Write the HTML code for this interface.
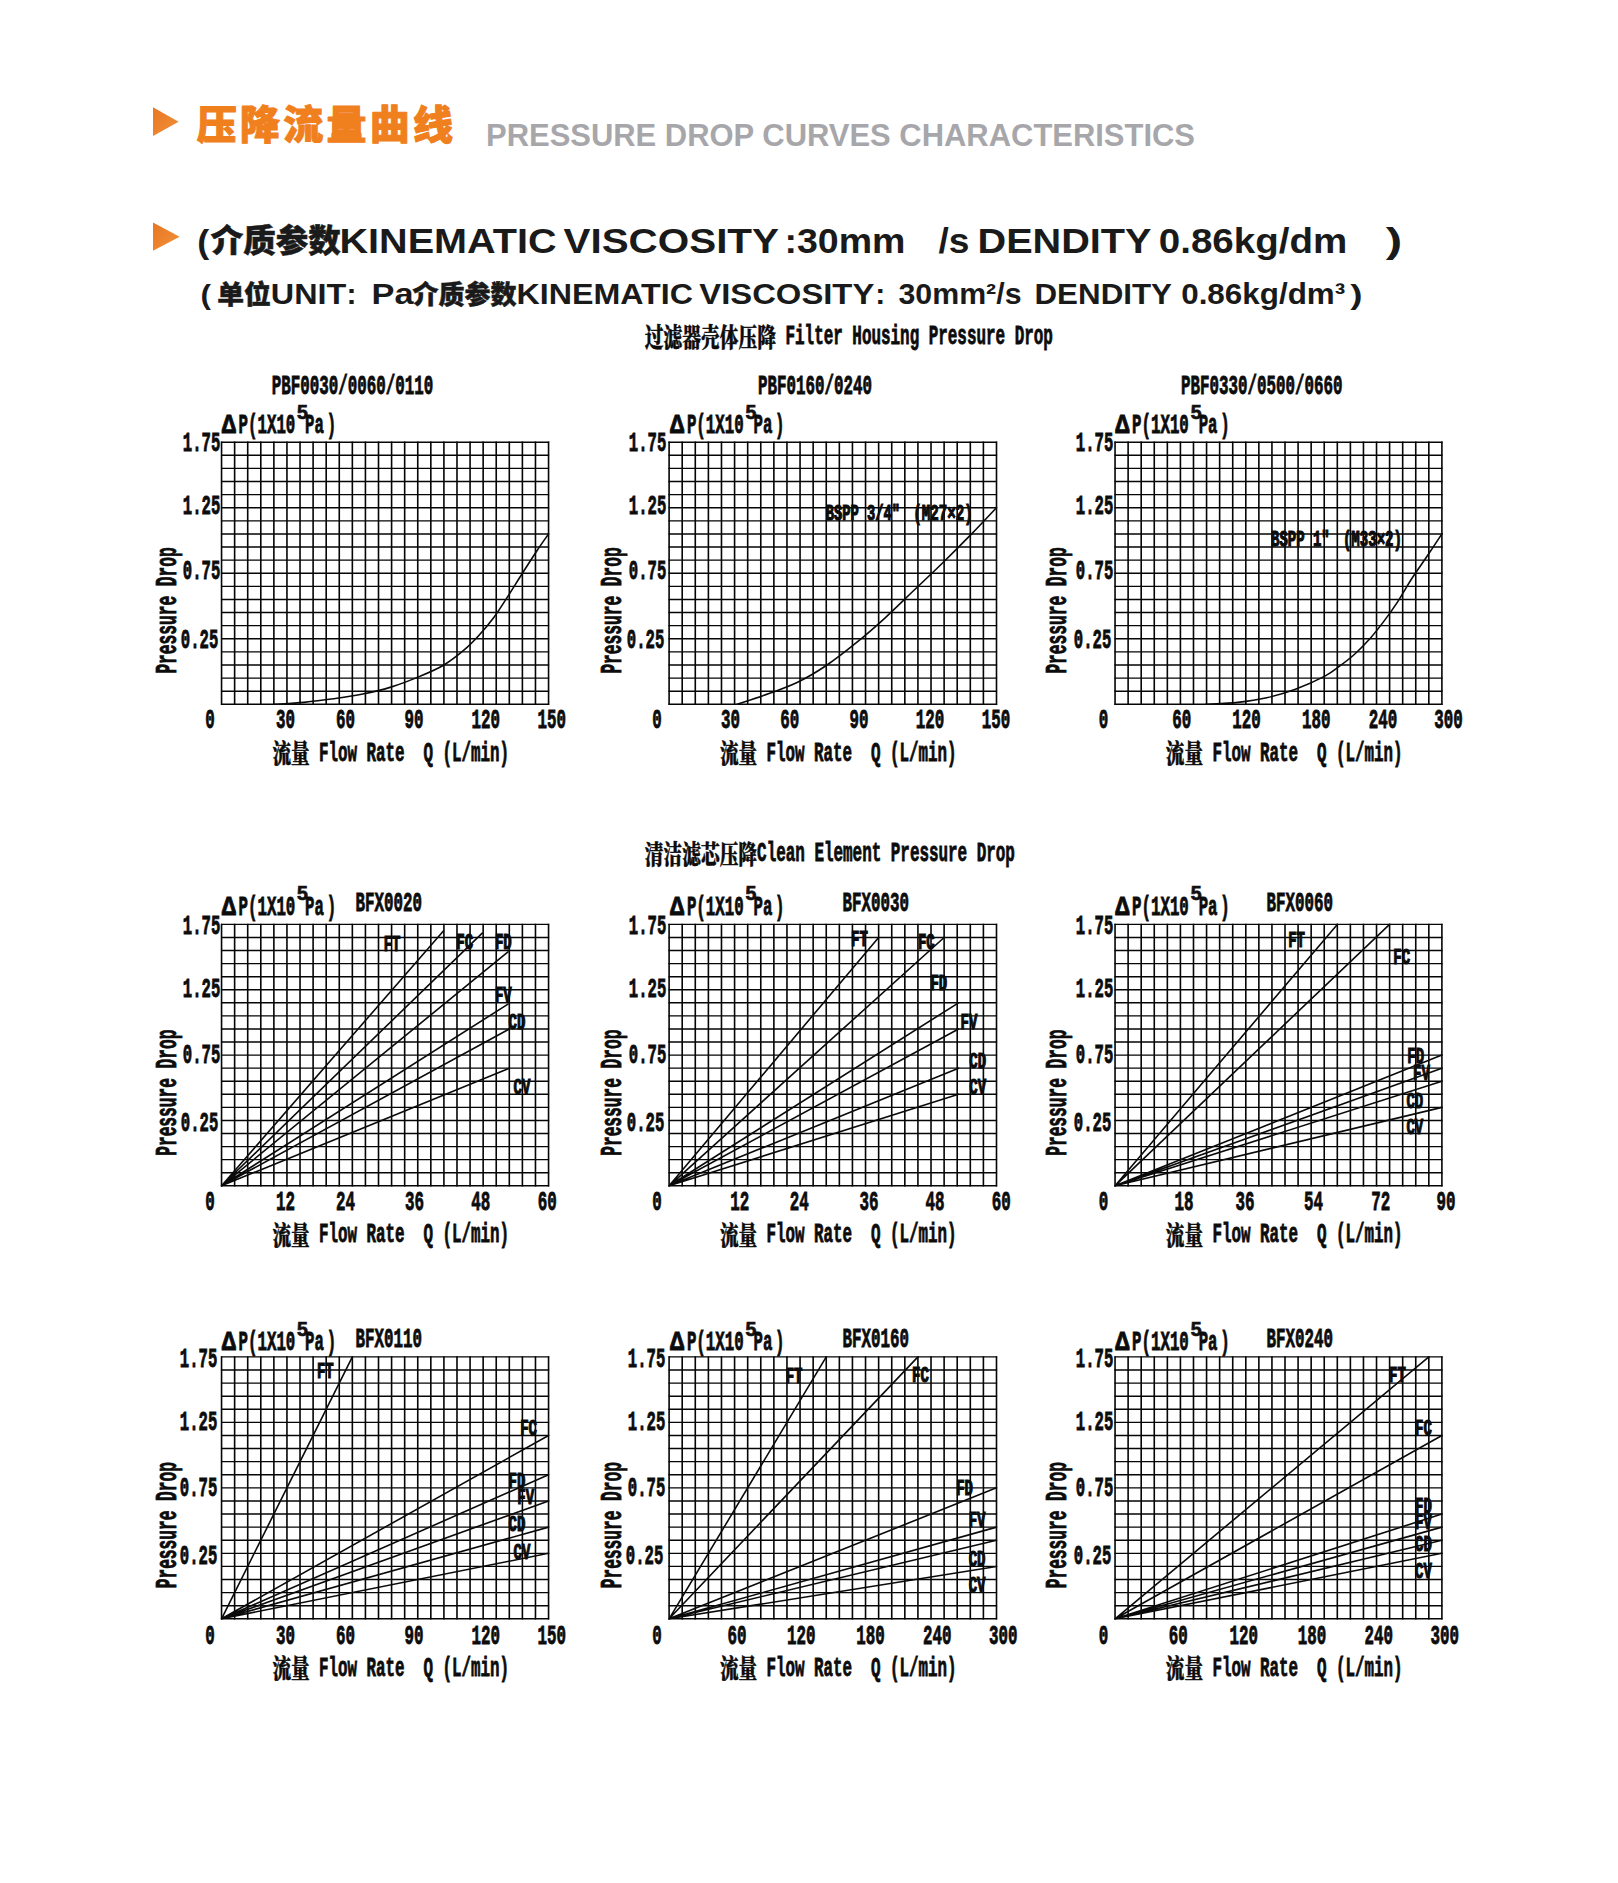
<!DOCTYPE html>
<html lang="zh"><head><meta charset="utf-8"><title>压降流量曲线 PRESSURE DROP CURVES CHARACTERISTICS</title>
<style>
html,body{margin:0;padding:0;background:#fff}
body{width:1618px;height:1883px;overflow:hidden}
svg{display:block}
.g{fill:none;stroke:#050505}
.gv{stroke-width:1.6}
.gh{stroke-width:1.4}
.c{fill:none;stroke:#0a0a0a;stroke-width:1.6;stroke-linecap:round}
text{white-space:pre}
.m{font-family:"Liberation Mono","DejaVu Sans Mono","Noto Serif CJK SC",monospace;font-weight:bold;fill:#0c0c0c;stroke:#0c0c0c;stroke-width:0.85}
.sm{stroke-width:1.2}
.j{font-family:"Liberation Serif","Noto Serif CJK SC","Noto Sans CJK SC",serif;font-weight:900;stroke-width:0.45}
.s5{font-family:"Liberation Sans","Noto Sans CJK SC",sans-serif;font-weight:bold;font-size:19.5px;fill:#111;stroke:#111;stroke-width:0.7}
.h{font-family:"Liberation Sans","Noto Sans CJK SC",sans-serif;font-weight:bold;fill:#1a1a1a}
.hc{font-family:"Liberation Sans","Noto Sans CJK SC",sans-serif;font-weight:900;fill:#1a1a1a;stroke:#1a1a1a;stroke-width:0.5}
.k{font-family:"Liberation Sans","Noto Sans CJK SC",sans-serif;font-weight:900;fill:#f0801e;stroke:#f0801e;stroke-width:1.0;stroke-linejoin:round}
</style></head><body>
<svg xml:space="preserve" width="1618" height="1883" viewBox="0 0 1618 1883">
<defs><linearGradient id="og" x1="0" y1="0" x2="1" y2="1"><stop offset="0" stop-color="#e87722"/><stop offset="1" stop-color="#f3903a"/></linearGradient></defs>
<polygon points="153,107.2 178.6,121.7 153,136" fill="url(#og)"/>
<text class="k" x="196.7" y="139.4" font-size="40" letter-spacing="3.25">压降流量曲线</text>
<text class="h" x="486.0" y="146.2" font-size="30.5" textLength="709.0" lengthAdjust="spacingAndGlyphs" style="fill:#a7a7ab">PRESSURE DROP CURVES CHARACTERISTICS</text>
<polygon points="153,222.4 179.6,236.7 153,250.8" fill="url(#og)"/>
<text class="h" x="197.3" y="252.5" font-size="34" textLength="12.0" lengthAdjust="spacingAndGlyphs">(</text>
<text class="hc" x="210.8" y="252.0" font-size="32" textLength="130.0" lengthAdjust="spacingAndGlyphs">介质参数</text>
<text class="h" x="339.5" y="252.5" font-size="35" textLength="217.0" lengthAdjust="spacingAndGlyphs">KINEMATIC</text>
<text class="h" x="563.5" y="252.5" font-size="35" textLength="215.5" lengthAdjust="spacingAndGlyphs">VISCOSITY</text>
<text class="h" x="784.5" y="252.5" font-size="35" textLength="121.0" lengthAdjust="spacingAndGlyphs">:30mm</text>
<text class="h" x="938.5" y="252.5" font-size="35" textLength="31.0" lengthAdjust="spacingAndGlyphs">/s</text>
<text class="h" x="977.5" y="252.5" font-size="35" textLength="174.0" lengthAdjust="spacingAndGlyphs">DENDITY</text>
<text class="h" x="1158.8" y="252.5" font-size="35" textLength="188.5" lengthAdjust="spacingAndGlyphs">0.86kg/dm</text>
<text class="h" x="1385.8" y="252.5" font-size="35" textLength="16.5" lengthAdjust="spacingAndGlyphs">)</text>
<text class="h" x="200.5" y="304.0" font-size="28" textLength="10.5" lengthAdjust="spacingAndGlyphs">(</text>
<text class="hc" x="217.2" y="303.5" font-size="26.2" textLength="53.6" lengthAdjust="spacingAndGlyphs">单位</text>
<text class="h" x="270.8" y="304.0" font-size="29" textLength="75.5" lengthAdjust="spacingAndGlyphs">UNIT</text>
<text class="h" x="346.5" y="304.0" font-size="30">:</text>
<text class="h" x="371.5" y="304.0" font-size="29" textLength="42.0" lengthAdjust="spacingAndGlyphs">Pa</text>
<text class="hc" x="412.6" y="303.5" font-size="26" textLength="104.0" lengthAdjust="spacingAndGlyphs">介质参数</text>
<text class="h" x="516.5" y="304.0" font-size="29" textLength="176.5" lengthAdjust="spacingAndGlyphs">KINEMATIC</text>
<text class="h" x="699.3" y="304.0" font-size="29" textLength="175.0" lengthAdjust="spacingAndGlyphs">VISCOSITY</text>
<text class="h" x="875.3" y="304.0" font-size="30">:</text>
<text class="h" x="898.5" y="304.0" font-size="29" textLength="123.0" lengthAdjust="spacingAndGlyphs">30mm²/s</text>
<text class="h" x="1034.5" y="304.0" font-size="29" textLength="137.5" lengthAdjust="spacingAndGlyphs">DENDITY</text>
<text class="h" x="1181.2" y="304.0" font-size="29" textLength="164.0" lengthAdjust="spacingAndGlyphs">0.86kg/dm³</text>
<text class="h" x="1350.2" y="304.0" font-size="28" textLength="12.2" lengthAdjust="spacingAndGlyphs">)</text>
<text class="m j" transform="translate(644.8,346.9) scale(0.721,1)" font-size="26">过滤器壳体压降</text>
<text class="m" transform="translate(785.5,344.4) scale(0.594,1)" font-size="26.8">Filter Housing Pressure Drop</text>
<text class="m j" transform="translate(644.8,863.7) scale(0.720,1)" font-size="26">清洁滤芯压降</text>
<text class="m" transform="translate(757.1,861.2) scale(0.594,1)" font-size="26.8">Clean Element Pressure Drop</text>
<path class="g gv" d="M221.55 441.60V704.90M234.63 441.60V704.90M247.71 441.60V704.90M260.79 441.60V704.90M273.87 441.60V704.90M286.95 441.60V704.90M300.03 441.60V704.90M313.11 441.60V704.90M326.19 441.60V704.90M339.27 441.60V704.90M352.35 441.60V704.90M365.43 441.60V704.90M378.51 441.60V704.90M391.59 441.60V704.90M404.67 441.60V704.90M417.75 441.60V704.90M430.83 441.60V704.90M443.91 441.60V704.90M456.99 441.60V704.90M470.07 441.60V704.90M483.15 441.60V704.90M496.23 441.60V704.90M509.31 441.60V704.90M522.39 441.60V704.90M535.47 441.60V704.90M548.55 441.60V704.90"/>
<path class="g gh" d="M220.95 442.20H549.15M220.95 455.31H549.15M220.95 468.41H549.15M220.95 481.51H549.15M220.95 494.62H549.15M220.95 507.73H549.15M220.95 520.83H549.15M220.95 533.93H549.15M220.95 547.04H549.15M220.95 560.14H549.15M220.95 573.25H549.15M220.95 586.36H549.15M220.95 599.46H549.15M220.95 612.57H549.15M220.95 625.67H549.15M220.95 638.77H549.15M220.95 651.88H549.15M220.95 664.99H549.15M220.95 678.09H549.15M220.95 691.20H549.15M220.95 704.30H549.15"/>
<path class="c" d="M275.18 704.30C279.97 703.97 294.25 703.25 303.95 702.33C313.66 701.42 323.57 700.17 333.38 698.80C343.19 697.42 353.11 696.07 362.81 694.08C372.52 692.09 382.00 689.86 391.59 686.87C401.18 683.88 411.65 679.77 420.37 676.12C429.09 672.48 436.61 669.35 443.91 664.98C451.21 660.62 458.36 654.83 464.18 649.91C470.00 645.00 473.93 640.85 478.83 635.50C483.74 630.15 488.75 624.36 493.61 617.81C498.48 611.25 503.21 603.61 508.00 596.18C512.80 588.76 517.59 580.79 522.39 573.25C527.19 565.71 532.42 557.52 536.78 550.97C541.14 544.42 546.59 536.77 548.55 533.93"/>
<text class="m" transform="translate(221.8,432.7) scale(0.88,1)" font-size="26.8">Δ</text>
<text class="m" transform="translate(238.6,432.7) scale(0.588,1)" font-size="26.8">P(1X10</text>
<text class="s5" x="297.1" y="418.5">5</text>
<text class="m" transform="translate(305.1,432.7) scale(0.584,1)" font-size="26.8">Pa</text>
<text class="m" transform="translate(326.8,432.7) scale(0.584,1)" font-size="26.8">)</text>
<text class="m" transform="translate(182.8,450.6) scale(0.584,1)" font-size="26.8">1.75</text>
<text class="m" transform="translate(182.8,513.7) scale(0.584,1)" font-size="26.8">1.25</text>
<text class="m" transform="translate(182.8,579.1) scale(0.584,1)" font-size="26.8">0.75</text>
<text class="m" transform="translate(180.8,647.6) scale(0.584,1)" font-size="26.8">0.25</text>
<text class="m" transform="translate(175.8,673.6) rotate(-90) scale(0.549,1)" font-size="29.5">Pressure Drop</text>
<text class="m" transform="translate(205.2,728.4) scale(0.591,1)" font-size="26.8">0</text>
<text class="m" transform="translate(275.9,728.4) scale(0.591,1)" font-size="26.8">30</text>
<text class="m" transform="translate(336.0,728.4) scale(0.591,1)" font-size="26.8">60</text>
<text class="m" transform="translate(404.6,728.4) scale(0.591,1)" font-size="26.8">90</text>
<text class="m" transform="translate(471.6,728.4) scale(0.591,1)" font-size="26.8">120</text>
<text class="m" transform="translate(537.5,728.4) scale(0.591,1)" font-size="26.8">150</text>
<text class="m j" transform="translate(272.4,763.0) scale(0.716,1)" font-size="26">流量</text>
<text class="m" transform="translate(319.1,760.5) scale(0.591,1)" font-size="26.8">Flow Rate  Q (L/min)</text>
<text class="m" transform="translate(271.8,393.9) scale(0.591,1)" font-size="26.8">PBF0030/0060/0110</text>
<path class="g gv" d="M669.10 441.60V704.90M682.20 441.60V704.90M695.29 441.60V704.90M708.39 441.60V704.90M721.48 441.60V704.90M734.58 441.60V704.90M747.68 441.60V704.90M760.77 441.60V704.90M773.87 441.60V704.90M786.96 441.60V704.90M800.06 441.60V704.90M813.16 441.60V704.90M826.25 441.60V704.90M839.35 441.60V704.90M852.44 441.60V704.90M865.54 441.60V704.90M878.64 441.60V704.90M891.73 441.60V704.90M904.83 441.60V704.90M917.92 441.60V704.90M931.02 441.60V704.90M944.12 441.60V704.90M957.21 441.60V704.90M970.31 441.60V704.90M983.40 441.60V704.90M996.50 441.60V704.90"/>
<path class="g gh" d="M668.50 442.20H997.10M668.50 455.31H997.10M668.50 468.41H997.10M668.50 481.51H997.10M668.50 494.62H997.10M668.50 507.73H997.10M668.50 520.83H997.10M668.50 533.93H997.10M668.50 547.04H997.10M668.50 560.14H997.10M668.50 573.25H997.10M668.50 586.36H997.10M668.50 599.46H997.10M668.50 612.57H997.10M668.50 625.67H997.10M668.50 638.77H997.10M668.50 651.88H997.10M668.50 664.99H997.10M668.50 678.09H997.10M668.50 691.20H997.10M668.50 704.30H997.10"/>
<path class="c" d="M737.20 704.30C742.50 702.51 758.87 697.27 769.02 693.55C779.17 689.84 788.43 686.78 798.10 682.02C807.76 677.26 817.32 671.54 827.04 664.98C836.75 658.43 846.68 650.57 856.37 642.71C866.06 634.84 875.58 626.54 885.18 617.81C894.79 609.07 904.39 599.46 914.00 590.29C923.60 581.11 933.20 572.16 942.81 562.77C952.41 553.37 962.67 543.11 971.62 533.93C980.57 524.76 992.35 512.09 996.50 507.72"/>
<text class="m" transform="translate(670.1,432.7) scale(0.88,1)" font-size="26.8">Δ</text>
<text class="m" transform="translate(686.9,432.7) scale(0.588,1)" font-size="26.8">P(1X10</text>
<text class="s5" x="745.5" y="418.5">5</text>
<text class="m" transform="translate(753.5,432.7) scale(0.584,1)" font-size="26.8">Pa</text>
<text class="m" transform="translate(775.1,432.7) scale(0.584,1)" font-size="26.8">)</text>
<text class="m" transform="translate(628.8,450.6) scale(0.584,1)" font-size="26.8">1.75</text>
<text class="m" transform="translate(628.8,513.7) scale(0.584,1)" font-size="26.8">1.25</text>
<text class="m" transform="translate(628.8,579.1) scale(0.584,1)" font-size="26.8">0.75</text>
<text class="m" transform="translate(626.8,647.6) scale(0.584,1)" font-size="26.8">0.25</text>
<text class="m" transform="translate(620.5,673.6) rotate(-90) scale(0.549,1)" font-size="29.5">Pressure Drop</text>
<text class="m" transform="translate(652.2,728.4) scale(0.591,1)" font-size="26.8">0</text>
<text class="m" transform="translate(721.0,728.4) scale(0.591,1)" font-size="26.8">30</text>
<text class="m" transform="translate(780.2,728.4) scale(0.591,1)" font-size="26.8">60</text>
<text class="m" transform="translate(849.4,728.4) scale(0.591,1)" font-size="26.8">90</text>
<text class="m" transform="translate(915.8,728.4) scale(0.591,1)" font-size="26.8">120</text>
<text class="m" transform="translate(981.8,728.4) scale(0.591,1)" font-size="26.8">150</text>
<text class="m j" transform="translate(719.9,763.0) scale(0.716,1)" font-size="26">流量</text>
<text class="m" transform="translate(766.6,760.5) scale(0.591,1)" font-size="26.8">Flow Rate  Q (L/min)</text>
<text class="m" transform="translate(758.0,393.9) scale(0.591,1)" font-size="26.8">PBF0160/0240</text>
<text class="m sm" transform="translate(825.8,519.9) scale(0.640,1)" font-size="21.5">BSPP 3/4&quot;</text>
<text class="m sm" transform="translate(913.3,519.9) scale(0.659,1)" font-size="21.5">(M27×2)</text>
<path class="g gv" d="M1115.05 441.60V704.90M1128.12 441.60V704.90M1141.20 441.60V704.90M1154.27 441.60V704.90M1167.35 441.60V704.90M1180.42 441.60V704.90M1193.49 441.60V704.90M1206.57 441.60V704.90M1219.64 441.60V704.90M1232.72 441.60V704.90M1245.79 441.60V704.90M1258.86 441.60V704.90M1271.94 441.60V704.90M1285.01 441.60V704.90M1298.09 441.60V704.90M1311.16 441.60V704.90M1324.23 441.60V704.90M1337.31 441.60V704.90M1350.38 441.60V704.90M1363.46 441.60V704.90M1376.53 441.60V704.90M1389.60 441.60V704.90M1402.68 441.60V704.90M1415.75 441.60V704.90M1428.83 441.60V704.90M1441.90 441.60V704.90"/>
<path class="g gh" d="M1114.45 442.20H1442.50M1114.45 455.31H1442.50M1114.45 468.41H1442.50M1114.45 481.51H1442.50M1114.45 494.62H1442.50M1114.45 507.73H1442.50M1114.45 520.83H1442.50M1114.45 533.93H1442.50M1114.45 547.04H1442.50M1114.45 560.14H1442.50M1114.45 573.25H1442.50M1114.45 586.36H1442.50M1114.45 599.46H1442.50M1114.45 612.57H1442.50M1114.45 625.67H1442.50M1114.45 638.77H1442.50M1114.45 651.88H1442.50M1114.45 664.99H1442.50M1114.45 678.09H1442.50M1114.45 691.20H1442.50M1114.45 704.30H1442.50"/>
<path class="c" d="M1205.91 704.30C1211.25 703.97 1227.81 703.43 1237.95 702.33C1248.08 701.24 1257.12 699.93 1266.71 697.75C1276.30 695.56 1285.77 692.83 1295.47 689.23C1305.17 685.63 1317.48 680.01 1324.89 676.12C1332.30 672.24 1335.02 669.51 1339.92 665.90C1344.83 662.30 1349.51 658.80 1354.30 654.50C1359.10 650.20 1363.89 645.44 1368.69 640.09C1373.48 634.73 1378.27 628.73 1383.07 622.39C1387.86 616.06 1392.65 609.40 1397.45 602.08C1402.24 594.76 1407.04 585.92 1411.83 578.49C1416.62 571.07 1421.20 564.95 1426.21 557.52C1431.22 550.10 1439.29 537.87 1441.90 533.93"/>
<text class="m" transform="translate(1115.3,432.7) scale(0.88,1)" font-size="26.8">Δ</text>
<text class="m" transform="translate(1132.1,432.7) scale(0.588,1)" font-size="26.8">P(1X10</text>
<text class="s5" x="1190.7" y="418.5">5</text>
<text class="m" transform="translate(1198.7,432.7) scale(0.584,1)" font-size="26.8">Pa</text>
<text class="m" transform="translate(1220.3,432.7) scale(0.584,1)" font-size="26.8">)</text>
<text class="m" transform="translate(1075.8,450.6) scale(0.584,1)" font-size="26.8">1.75</text>
<text class="m" transform="translate(1075.8,513.7) scale(0.584,1)" font-size="26.8">1.25</text>
<text class="m" transform="translate(1075.8,579.1) scale(0.584,1)" font-size="26.8">0.75</text>
<text class="m" transform="translate(1073.8,647.6) scale(0.584,1)" font-size="26.8">0.25</text>
<text class="m" transform="translate(1065.7,673.6) rotate(-90) scale(0.549,1)" font-size="29.5">Pressure Drop</text>
<text class="m" transform="translate(1098.7,728.4) scale(0.591,1)" font-size="26.8">0</text>
<text class="m" transform="translate(1172.3,728.4) scale(0.591,1)" font-size="26.8">60</text>
<text class="m" transform="translate(1232.3,728.4) scale(0.591,1)" font-size="26.8">120</text>
<text class="m" transform="translate(1302.0,728.4) scale(0.591,1)" font-size="26.8">180</text>
<text class="m" transform="translate(1368.8,728.4) scale(0.591,1)" font-size="26.8">240</text>
<text class="m" transform="translate(1434.2,728.4) scale(0.591,1)" font-size="26.8">300</text>
<text class="m j" transform="translate(1165.8,763.0) scale(0.716,1)" font-size="26">流量</text>
<text class="m" transform="translate(1212.6,760.5) scale(0.591,1)" font-size="26.8">Flow Rate  Q (L/min)</text>
<text class="m" transform="translate(1181.0,393.9) scale(0.591,1)" font-size="26.8">PBF0330/0500/0660</text>
<text class="m sm" transform="translate(1271.1,546.3) scale(0.648,1)" font-size="21.5">BSPP 1&quot;</text>
<text class="m sm" transform="translate(1342.9,546.3) scale(0.655,1)" font-size="21.5">(M33×2)</text>
<path class="g gv" d="M221.55 923.80V1186.40M234.63 923.80V1186.40M247.71 923.80V1186.40M260.79 923.80V1186.40M273.87 923.80V1186.40M286.95 923.80V1186.40M300.03 923.80V1186.40M313.11 923.80V1186.40M326.19 923.80V1186.40M339.27 923.80V1186.40M352.35 923.80V1186.40M365.43 923.80V1186.40M378.51 923.80V1186.40M391.59 923.80V1186.40M404.67 923.80V1186.40M417.75 923.80V1186.40M430.83 923.80V1186.40M443.91 923.80V1186.40M456.99 923.80V1186.40M470.07 923.80V1186.40M483.15 923.80V1186.40M496.23 923.80V1186.40M509.31 923.80V1186.40M522.39 923.80V1186.40M535.47 923.80V1186.40M548.55 923.80V1186.40"/>
<path class="g gh" d="M220.95 924.40H549.15M220.95 937.47H549.15M220.95 950.54H549.15M220.95 963.61H549.15M220.95 976.68H549.15M220.95 989.75H549.15M220.95 1002.82H549.15M220.95 1015.89H549.15M220.95 1028.96H549.15M220.95 1042.03H549.15M220.95 1055.10H549.15M220.95 1068.17H549.15M220.95 1081.24H549.15M220.95 1094.31H549.15M220.95 1107.38H549.15M220.95 1120.45H549.15M220.95 1133.52H549.15M220.95 1146.59H549.15M220.95 1159.66H549.15M220.95 1172.73H549.15M220.95 1185.80H549.15"/>
<path class="c" d="M221.55 1185.80L443.39 930.93M221.55 1185.80L482.23 933.16M221.55 1185.80L508.00 951.85M221.55 1185.80L508.00 1004.13M221.55 1185.80L509.31 1028.96M221.55 1185.80L509.31 1068.17"/>
<text class="m" transform="translate(221.8,914.6) scale(0.88,1)" font-size="26.8">Δ</text>
<text class="m" transform="translate(238.6,914.6) scale(0.588,1)" font-size="26.8">P(1X10</text>
<text class="s5" x="297.1" y="900.4">5</text>
<text class="m" transform="translate(305.1,914.6) scale(0.584,1)" font-size="26.8">Pa</text>
<text class="m" transform="translate(326.8,914.6) scale(0.584,1)" font-size="26.8">)</text>
<text class="m" transform="translate(182.8,934.0) scale(0.584,1)" font-size="26.8">1.75</text>
<text class="m" transform="translate(182.8,997.1) scale(0.584,1)" font-size="26.8">1.25</text>
<text class="m" transform="translate(182.8,1062.5) scale(0.584,1)" font-size="26.8">0.75</text>
<text class="m" transform="translate(180.8,1131.0) scale(0.584,1)" font-size="26.8">0.25</text>
<text class="m" transform="translate(175.8,1155.8) rotate(-90) scale(0.549,1)" font-size="29.5">Pressure Drop</text>
<text class="m" transform="translate(205.2,1210.3) scale(0.591,1)" font-size="26.8">0</text>
<text class="m" transform="translate(275.9,1210.3) scale(0.591,1)" font-size="26.8">12</text>
<text class="m" transform="translate(336.0,1210.3) scale(0.591,1)" font-size="26.8">24</text>
<text class="m" transform="translate(405.0,1210.3) scale(0.591,1)" font-size="26.8">36</text>
<text class="m" transform="translate(471.2,1210.3) scale(0.591,1)" font-size="26.8">48</text>
<text class="m" transform="translate(537.7,1210.3) scale(0.591,1)" font-size="26.8">60</text>
<text class="m j" transform="translate(272.4,1244.9) scale(0.716,1)" font-size="26">流量</text>
<text class="m" transform="translate(319.1,1242.4) scale(0.591,1)" font-size="26.8">Flow Rate  Q (L/min)</text>
<text class="m" transform="translate(355.6,911.0) scale(0.591,1)" font-size="26.8">BFX0020</text>
<text class="m sm" transform="translate(383.7,950.7) scale(0.651,1)" font-size="21.5">FT</text>
<text class="m sm" transform="translate(456.3,949.3) scale(0.651,1)" font-size="21.5">FC</text>
<text class="m sm" transform="translate(494.9,949.3) scale(0.651,1)" font-size="21.5">FD</text>
<text class="m sm" transform="translate(494.9,1001.5) scale(0.651,1)" font-size="21.5">FV</text>
<text class="m sm" transform="translate(508.6,1028.6) scale(0.651,1)" font-size="21.5">CD</text>
<text class="m sm" transform="translate(513.5,1093.6) scale(0.651,1)" font-size="21.5">CV</text>
<path class="g gv" d="M669.10 923.80V1186.40M682.20 923.80V1186.40M695.29 923.80V1186.40M708.39 923.80V1186.40M721.48 923.80V1186.40M734.58 923.80V1186.40M747.68 923.80V1186.40M760.77 923.80V1186.40M773.87 923.80V1186.40M786.96 923.80V1186.40M800.06 923.80V1186.40M813.16 923.80V1186.40M826.25 923.80V1186.40M839.35 923.80V1186.40M852.44 923.80V1186.40M865.54 923.80V1186.40M878.64 923.80V1186.40M891.73 923.80V1186.40M904.83 923.80V1186.40M917.92 923.80V1186.40M931.02 923.80V1186.40M944.12 923.80V1186.40M957.21 923.80V1186.40M970.31 923.80V1186.40M983.40 923.80V1186.40M996.50 923.80V1186.40"/>
<path class="g gh" d="M668.50 924.40H997.10M668.50 937.47H997.10M668.50 950.54H997.10M668.50 963.61H997.10M668.50 976.68H997.10M668.50 989.75H997.10M668.50 1002.82H997.10M668.50 1015.89H997.10M668.50 1028.96H997.10M668.50 1042.03H997.10M668.50 1055.10H997.10M668.50 1068.17H997.10M668.50 1081.24H997.10M668.50 1094.31H997.10M668.50 1107.38H997.10M668.50 1120.45H997.10M668.50 1133.52H997.10M668.50 1146.59H997.10M668.50 1159.66H997.10M668.50 1172.73H997.10M668.50 1185.80H997.10"/>
<path class="c" d="M669.10 1185.80L878.64 937.47M669.10 1185.80L944.12 937.47M669.10 1185.80L958.52 1002.82M669.10 1185.80L958.52 1028.96M669.10 1185.80L958.52 1068.17M669.10 1185.80L958.52 1094.31"/>
<text class="m" transform="translate(670.1,914.6) scale(0.88,1)" font-size="26.8">Δ</text>
<text class="m" transform="translate(686.9,914.6) scale(0.588,1)" font-size="26.8">P(1X10</text>
<text class="s5" x="745.5" y="900.4">5</text>
<text class="m" transform="translate(753.5,914.6) scale(0.584,1)" font-size="26.8">Pa</text>
<text class="m" transform="translate(775.1,914.6) scale(0.584,1)" font-size="26.8">)</text>
<text class="m" transform="translate(628.8,934.0) scale(0.584,1)" font-size="26.8">1.75</text>
<text class="m" transform="translate(628.8,997.1) scale(0.584,1)" font-size="26.8">1.25</text>
<text class="m" transform="translate(628.8,1062.5) scale(0.584,1)" font-size="26.8">0.75</text>
<text class="m" transform="translate(626.8,1131.0) scale(0.584,1)" font-size="26.8">0.25</text>
<text class="m" transform="translate(620.5,1155.8) rotate(-90) scale(0.549,1)" font-size="29.5">Pressure Drop</text>
<text class="m" transform="translate(652.2,1210.3) scale(0.591,1)" font-size="26.8">0</text>
<text class="m" transform="translate(730.3,1210.3) scale(0.591,1)" font-size="26.8">12</text>
<text class="m" transform="translate(789.8,1210.3) scale(0.591,1)" font-size="26.8">24</text>
<text class="m" transform="translate(859.5,1210.3) scale(0.591,1)" font-size="26.8">36</text>
<text class="m" transform="translate(925.5,1210.3) scale(0.591,1)" font-size="26.8">48</text>
<text class="m" transform="translate(991.7,1210.3) scale(0.591,1)" font-size="26.8">60</text>
<text class="m j" transform="translate(719.9,1244.9) scale(0.716,1)" font-size="26">流量</text>
<text class="m" transform="translate(766.6,1242.4) scale(0.591,1)" font-size="26.8">Flow Rate  Q (L/min)</text>
<text class="m" transform="translate(842.5,911.0) scale(0.591,1)" font-size="26.8">BFX0030</text>
<text class="m sm" transform="translate(851.1,945.5) scale(0.651,1)" font-size="21.5">FT</text>
<text class="m sm" transform="translate(917.9,949.3) scale(0.651,1)" font-size="21.5">FC</text>
<text class="m sm" transform="translate(930.4,989.9) scale(0.651,1)" font-size="21.5">FD</text>
<text class="m sm" transform="translate(960.6,1028.6) scale(0.651,1)" font-size="21.5">FV</text>
<text class="m sm" transform="translate(969.3,1067.5) scale(0.651,1)" font-size="21.5">CD</text>
<text class="m sm" transform="translate(969.3,1093.6) scale(0.651,1)" font-size="21.5">CV</text>
<path class="g gv" d="M1115.05 923.80V1186.40M1128.12 923.80V1186.40M1141.20 923.80V1186.40M1154.27 923.80V1186.40M1167.35 923.80V1186.40M1180.42 923.80V1186.40M1193.49 923.80V1186.40M1206.57 923.80V1186.40M1219.64 923.80V1186.40M1232.72 923.80V1186.40M1245.79 923.80V1186.40M1258.86 923.80V1186.40M1271.94 923.80V1186.40M1285.01 923.80V1186.40M1298.09 923.80V1186.40M1311.16 923.80V1186.40M1324.23 923.80V1186.40M1337.31 923.80V1186.40M1350.38 923.80V1186.40M1363.46 923.80V1186.40M1376.53 923.80V1186.40M1389.60 923.80V1186.40M1402.68 923.80V1186.40M1415.75 923.80V1186.40M1428.83 923.80V1186.40M1441.90 923.80V1186.40"/>
<path class="g gh" d="M1114.45 924.40H1442.50M1114.45 937.47H1442.50M1114.45 950.54H1442.50M1114.45 963.61H1442.50M1114.45 976.68H1442.50M1114.45 989.75H1442.50M1114.45 1002.82H1442.50M1114.45 1015.89H1442.50M1114.45 1028.96H1442.50M1114.45 1042.03H1442.50M1114.45 1055.10H1442.50M1114.45 1068.17H1442.50M1114.45 1081.24H1442.50M1114.45 1094.31H1442.50M1114.45 1107.38H1442.50M1114.45 1120.45H1442.50M1114.45 1133.52H1442.50M1114.45 1146.59H1442.50M1114.45 1159.66H1442.50M1114.45 1172.73H1442.50M1114.45 1185.80H1442.50"/>
<path class="c" d="M1115.05 1185.80L1337.31 924.40M1115.05 1185.80L1389.60 924.40M1115.05 1185.80L1441.90 1055.10M1115.05 1185.80L1441.90 1068.17M1115.05 1185.80L1441.90 1081.24M1115.05 1185.80L1441.90 1107.38"/>
<text class="m" transform="translate(1115.3,914.6) scale(0.88,1)" font-size="26.8">Δ</text>
<text class="m" transform="translate(1132.1,914.6) scale(0.588,1)" font-size="26.8">P(1X10</text>
<text class="s5" x="1190.7" y="900.4">5</text>
<text class="m" transform="translate(1198.7,914.6) scale(0.584,1)" font-size="26.8">Pa</text>
<text class="m" transform="translate(1220.3,914.6) scale(0.584,1)" font-size="26.8">)</text>
<text class="m" transform="translate(1075.8,934.0) scale(0.584,1)" font-size="26.8">1.75</text>
<text class="m" transform="translate(1075.8,997.1) scale(0.584,1)" font-size="26.8">1.25</text>
<text class="m" transform="translate(1075.8,1062.5) scale(0.584,1)" font-size="26.8">0.75</text>
<text class="m" transform="translate(1073.8,1131.0) scale(0.584,1)" font-size="26.8">0.25</text>
<text class="m" transform="translate(1065.7,1155.8) rotate(-90) scale(0.549,1)" font-size="29.5">Pressure Drop</text>
<text class="m" transform="translate(1098.7,1210.3) scale(0.591,1)" font-size="26.8">0</text>
<text class="m" transform="translate(1174.6,1210.3) scale(0.591,1)" font-size="26.8">18</text>
<text class="m" transform="translate(1235.6,1210.3) scale(0.591,1)" font-size="26.8">36</text>
<text class="m" transform="translate(1303.9,1210.3) scale(0.591,1)" font-size="26.8">54</text>
<text class="m" transform="translate(1371.3,1210.3) scale(0.591,1)" font-size="26.8">72</text>
<text class="m" transform="translate(1436.6,1210.3) scale(0.591,1)" font-size="26.8">90</text>
<text class="m j" transform="translate(1165.8,1244.9) scale(0.716,1)" font-size="26">流量</text>
<text class="m" transform="translate(1212.6,1242.4) scale(0.591,1)" font-size="26.8">Flow Rate  Q (L/min)</text>
<text class="m" transform="translate(1266.5,911.0) scale(0.591,1)" font-size="26.8">BFX0060</text>
<text class="m sm" transform="translate(1288.2,946.9) scale(0.651,1)" font-size="21.5">FT</text>
<text class="m sm" transform="translate(1393.3,963.8) scale(0.651,1)" font-size="21.5">FC</text>
<text class="m sm" transform="translate(1407.3,1062.5) scale(0.651,1)" font-size="21.5">FD</text>
<text class="m sm" transform="translate(1413.1,1080.0) scale(0.651,1)" font-size="21.5">FV</text>
<text class="m sm" transform="translate(1406.4,1107.6) scale(0.651,1)" font-size="21.5">CD</text>
<text class="m sm" transform="translate(1406.4,1134.3) scale(0.651,1)" font-size="21.5">CV</text>
<path class="g gv" d="M221.55 1356.30V1619.40M234.63 1356.30V1619.40M247.71 1356.30V1619.40M260.79 1356.30V1619.40M273.87 1356.30V1619.40M286.95 1356.30V1619.40M300.03 1356.30V1619.40M313.11 1356.30V1619.40M326.19 1356.30V1619.40M339.27 1356.30V1619.40M352.35 1356.30V1619.40M365.43 1356.30V1619.40M378.51 1356.30V1619.40M391.59 1356.30V1619.40M404.67 1356.30V1619.40M417.75 1356.30V1619.40M430.83 1356.30V1619.40M443.91 1356.30V1619.40M456.99 1356.30V1619.40M470.07 1356.30V1619.40M483.15 1356.30V1619.40M496.23 1356.30V1619.40M509.31 1356.30V1619.40M522.39 1356.30V1619.40M535.47 1356.30V1619.40M548.55 1356.30V1619.40"/>
<path class="g gh" d="M220.95 1356.90H549.15M220.95 1370.00H549.15M220.95 1383.09H549.15M220.95 1396.19H549.15M220.95 1409.28H549.15M220.95 1422.38H549.15M220.95 1435.47H549.15M220.95 1448.57H549.15M220.95 1461.66H549.15M220.95 1474.76H549.15M220.95 1487.85H549.15M220.95 1500.95H549.15M220.95 1514.04H549.15M220.95 1527.13H549.15M220.95 1540.23H549.15M220.95 1553.33H549.15M220.95 1566.42H549.15M220.95 1579.52H549.15M220.95 1592.61H549.15M220.95 1605.71H549.15M220.95 1618.80H549.15"/>
<path class="c" d="M221.55 1618.80L352.35 1356.90M221.55 1618.80L548.55 1435.47M221.55 1618.80L548.55 1474.76M221.55 1618.80L548.55 1500.95M221.55 1618.80L548.55 1527.14M221.55 1618.80L548.55 1553.33"/>
<text class="m" transform="translate(221.8,1350.4) scale(0.88,1)" font-size="26.8">Δ</text>
<text class="m" transform="translate(238.6,1350.4) scale(0.588,1)" font-size="26.8">P(1X10</text>
<text class="s5" x="297.1" y="1336.2">5</text>
<text class="m" transform="translate(305.1,1350.4) scale(0.584,1)" font-size="26.8">Pa</text>
<text class="m" transform="translate(326.8,1350.4) scale(0.584,1)" font-size="26.8">)</text>
<text class="m" transform="translate(179.8,1367.3) scale(0.584,1)" font-size="26.8">1.75</text>
<text class="m" transform="translate(179.8,1430.4) scale(0.584,1)" font-size="26.8">1.25</text>
<text class="m" transform="translate(179.8,1495.8) scale(0.584,1)" font-size="26.8">0.75</text>
<text class="m" transform="translate(179.8,1564.3) scale(0.584,1)" font-size="26.8">0.25</text>
<text class="m" transform="translate(175.8,1588.3) rotate(-90) scale(0.549,1)" font-size="29.5">Pressure Drop</text>
<text class="m" transform="translate(205.2,1643.6) scale(0.591,1)" font-size="26.8">0</text>
<text class="m" transform="translate(275.9,1643.6) scale(0.591,1)" font-size="26.8">30</text>
<text class="m" transform="translate(336.0,1643.6) scale(0.591,1)" font-size="26.8">60</text>
<text class="m" transform="translate(404.6,1643.6) scale(0.591,1)" font-size="26.8">90</text>
<text class="m" transform="translate(471.6,1643.6) scale(0.591,1)" font-size="26.8">120</text>
<text class="m" transform="translate(537.5,1643.6) scale(0.591,1)" font-size="26.8">150</text>
<text class="m j" transform="translate(272.4,1678.2) scale(0.716,1)" font-size="26">流量</text>
<text class="m" transform="translate(319.1,1675.7) scale(0.591,1)" font-size="26.8">Flow Rate  Q (L/min)</text>
<text class="m" transform="translate(355.6,1346.9) scale(0.591,1)" font-size="26.8">BFX0110</text>
<text class="m sm" transform="translate(316.9,1378.1) scale(0.651,1)" font-size="21.5">FT</text>
<text class="m sm" transform="translate(520.2,1434.7) scale(0.651,1)" font-size="21.5">FC</text>
<text class="m sm" transform="translate(508.6,1487.9) scale(0.651,1)" font-size="21.5">FD</text>
<text class="m sm" transform="translate(517.3,1503.8) scale(0.651,1)" font-size="21.5">FV</text>
<text class="m sm" transform="translate(508.6,1530.6) scale(0.651,1)" font-size="21.5">CD</text>
<text class="m sm" transform="translate(513.5,1559.0) scale(0.651,1)" font-size="21.5">CV</text>
<path class="g gv" d="M669.10 1356.30V1619.40M682.20 1356.30V1619.40M695.29 1356.30V1619.40M708.39 1356.30V1619.40M721.48 1356.30V1619.40M734.58 1356.30V1619.40M747.68 1356.30V1619.40M760.77 1356.30V1619.40M773.87 1356.30V1619.40M786.96 1356.30V1619.40M800.06 1356.30V1619.40M813.16 1356.30V1619.40M826.25 1356.30V1619.40M839.35 1356.30V1619.40M852.44 1356.30V1619.40M865.54 1356.30V1619.40M878.64 1356.30V1619.40M891.73 1356.30V1619.40M904.83 1356.30V1619.40M917.92 1356.30V1619.40M931.02 1356.30V1619.40M944.12 1356.30V1619.40M957.21 1356.30V1619.40M970.31 1356.30V1619.40M983.40 1356.30V1619.40M996.50 1356.30V1619.40"/>
<path class="g gh" d="M668.50 1356.90H997.10M668.50 1370.00H997.10M668.50 1383.09H997.10M668.50 1396.19H997.10M668.50 1409.28H997.10M668.50 1422.38H997.10M668.50 1435.47H997.10M668.50 1448.57H997.10M668.50 1461.66H997.10M668.50 1474.76H997.10M668.50 1487.85H997.10M668.50 1500.95H997.10M668.50 1514.04H997.10M668.50 1527.13H997.10M668.50 1540.23H997.10M668.50 1553.33H997.10M668.50 1566.42H997.10M668.50 1579.52H997.10M668.50 1592.61H997.10M668.50 1605.71H997.10M668.50 1618.80H997.10"/>
<path class="c" d="M669.10 1618.80L826.25 1356.90M669.10 1618.80L917.92 1356.90M669.10 1618.80L996.50 1487.85M669.10 1618.80L996.50 1527.14M669.10 1618.80L996.50 1540.23M669.10 1618.80L996.50 1566.42"/>
<text class="m" transform="translate(670.1,1350.4) scale(0.88,1)" font-size="26.8">Δ</text>
<text class="m" transform="translate(686.9,1350.4) scale(0.588,1)" font-size="26.8">P(1X10</text>
<text class="s5" x="745.5" y="1336.2">5</text>
<text class="m" transform="translate(753.5,1350.4) scale(0.584,1)" font-size="26.8">Pa</text>
<text class="m" transform="translate(775.1,1350.4) scale(0.584,1)" font-size="26.8">)</text>
<text class="m" transform="translate(627.8,1367.3) scale(0.584,1)" font-size="26.8">1.75</text>
<text class="m" transform="translate(627.8,1430.4) scale(0.584,1)" font-size="26.8">1.25</text>
<text class="m" transform="translate(627.8,1495.8) scale(0.584,1)" font-size="26.8">0.75</text>
<text class="m" transform="translate(625.8,1564.3) scale(0.584,1)" font-size="26.8">0.25</text>
<text class="m" transform="translate(620.5,1588.3) rotate(-90) scale(0.549,1)" font-size="29.5">Pressure Drop</text>
<text class="m" transform="translate(652.2,1643.6) scale(0.591,1)" font-size="26.8">0</text>
<text class="m" transform="translate(727.4,1643.6) scale(0.591,1)" font-size="26.8">60</text>
<text class="m" transform="translate(787.0,1643.6) scale(0.591,1)" font-size="26.8">120</text>
<text class="m" transform="translate(856.2,1643.6) scale(0.591,1)" font-size="26.8">180</text>
<text class="m" transform="translate(923.0,1643.6) scale(0.591,1)" font-size="26.8">240</text>
<text class="m" transform="translate(989.0,1643.6) scale(0.591,1)" font-size="26.8">300</text>
<text class="m j" transform="translate(719.9,1678.2) scale(0.716,1)" font-size="26">流量</text>
<text class="m" transform="translate(766.6,1675.7) scale(0.591,1)" font-size="26.8">Flow Rate  Q (L/min)</text>
<text class="m" transform="translate(842.5,1346.9) scale(0.591,1)" font-size="26.8">BFX0160</text>
<text class="m sm" transform="translate(785.7,1382.7) scale(0.651,1)" font-size="21.5">FT</text>
<text class="m sm" transform="translate(912.1,1381.8) scale(0.651,1)" font-size="21.5">FC</text>
<text class="m sm" transform="translate(956.2,1495.1) scale(0.651,1)" font-size="21.5">FD</text>
<text class="m sm" transform="translate(968.7,1527.1) scale(0.651,1)" font-size="21.5">FV</text>
<text class="m sm" transform="translate(968.7,1566.3) scale(0.651,1)" font-size="21.5">CD</text>
<text class="m sm" transform="translate(968.7,1591.8) scale(0.651,1)" font-size="21.5">CV</text>
<path class="g gv" d="M1115.05 1356.30V1619.40M1128.12 1356.30V1619.40M1141.20 1356.30V1619.40M1154.27 1356.30V1619.40M1167.35 1356.30V1619.40M1180.42 1356.30V1619.40M1193.49 1356.30V1619.40M1206.57 1356.30V1619.40M1219.64 1356.30V1619.40M1232.72 1356.30V1619.40M1245.79 1356.30V1619.40M1258.86 1356.30V1619.40M1271.94 1356.30V1619.40M1285.01 1356.30V1619.40M1298.09 1356.30V1619.40M1311.16 1356.30V1619.40M1324.23 1356.30V1619.40M1337.31 1356.30V1619.40M1350.38 1356.30V1619.40M1363.46 1356.30V1619.40M1376.53 1356.30V1619.40M1389.60 1356.30V1619.40M1402.68 1356.30V1619.40M1415.75 1356.30V1619.40M1428.83 1356.30V1619.40M1441.90 1356.30V1619.40"/>
<path class="g gh" d="M1114.45 1356.90H1442.50M1114.45 1370.00H1442.50M1114.45 1383.09H1442.50M1114.45 1396.19H1442.50M1114.45 1409.28H1442.50M1114.45 1422.38H1442.50M1114.45 1435.47H1442.50M1114.45 1448.57H1442.50M1114.45 1461.66H1442.50M1114.45 1474.76H1442.50M1114.45 1487.85H1442.50M1114.45 1500.95H1442.50M1114.45 1514.04H1442.50M1114.45 1527.13H1442.50M1114.45 1540.23H1442.50M1114.45 1553.33H1442.50M1114.45 1566.42H1442.50M1114.45 1579.52H1442.50M1114.45 1592.61H1442.50M1114.45 1605.71H1442.50M1114.45 1618.80H1442.50"/>
<path class="c" d="M1115.05 1618.80L1428.83 1356.90M1115.05 1618.80L1441.90 1435.47M1115.05 1618.80L1441.90 1514.04M1115.05 1618.80L1441.90 1527.14M1115.05 1618.80L1441.90 1540.23M1115.05 1618.80L1441.90 1553.33"/>
<text class="m" transform="translate(1115.3,1350.4) scale(0.88,1)" font-size="26.8">Δ</text>
<text class="m" transform="translate(1132.1,1350.4) scale(0.588,1)" font-size="26.8">P(1X10</text>
<text class="s5" x="1190.7" y="1336.2">5</text>
<text class="m" transform="translate(1198.7,1350.4) scale(0.584,1)" font-size="26.8">Pa</text>
<text class="m" transform="translate(1220.3,1350.4) scale(0.584,1)" font-size="26.8">)</text>
<text class="m" transform="translate(1075.8,1367.3) scale(0.584,1)" font-size="26.8">1.75</text>
<text class="m" transform="translate(1075.8,1430.4) scale(0.584,1)" font-size="26.8">1.25</text>
<text class="m" transform="translate(1075.8,1495.8) scale(0.584,1)" font-size="26.8">0.75</text>
<text class="m" transform="translate(1073.8,1564.3) scale(0.584,1)" font-size="26.8">0.25</text>
<text class="m" transform="translate(1065.7,1588.3) rotate(-90) scale(0.549,1)" font-size="29.5">Pressure Drop</text>
<text class="m" transform="translate(1098.7,1643.6) scale(0.591,1)" font-size="26.8">0</text>
<text class="m" transform="translate(1168.8,1643.6) scale(0.591,1)" font-size="26.8">60</text>
<text class="m" transform="translate(1229.5,1643.6) scale(0.591,1)" font-size="26.8">120</text>
<text class="m" transform="translate(1297.7,1643.6) scale(0.591,1)" font-size="26.8">180</text>
<text class="m" transform="translate(1364.5,1643.6) scale(0.591,1)" font-size="26.8">240</text>
<text class="m" transform="translate(1430.5,1643.6) scale(0.591,1)" font-size="26.8">300</text>
<text class="m j" transform="translate(1165.8,1678.2) scale(0.716,1)" font-size="26">流量</text>
<text class="m" transform="translate(1212.6,1675.7) scale(0.591,1)" font-size="26.8">Flow Rate  Q (L/min)</text>
<text class="m" transform="translate(1266.5,1346.9) scale(0.591,1)" font-size="26.8">BFX0240</text>
<text class="m sm" transform="translate(1389.0,1381.8) scale(0.651,1)" font-size="21.5">FT</text>
<text class="m sm" transform="translate(1415.1,1434.7) scale(0.651,1)" font-size="21.5">FC</text>
<text class="m sm" transform="translate(1415.1,1512.5) scale(0.651,1)" font-size="21.5">FD</text>
<text class="m sm" transform="translate(1415.1,1528.5) scale(0.651,1)" font-size="21.5">FV</text>
<text class="m sm" transform="translate(1415.1,1551.2) scale(0.651,1)" font-size="21.5">CD</text>
<text class="m sm" transform="translate(1415.1,1577.9) scale(0.651,1)" font-size="21.5">CV</text>
</svg></body></html>
